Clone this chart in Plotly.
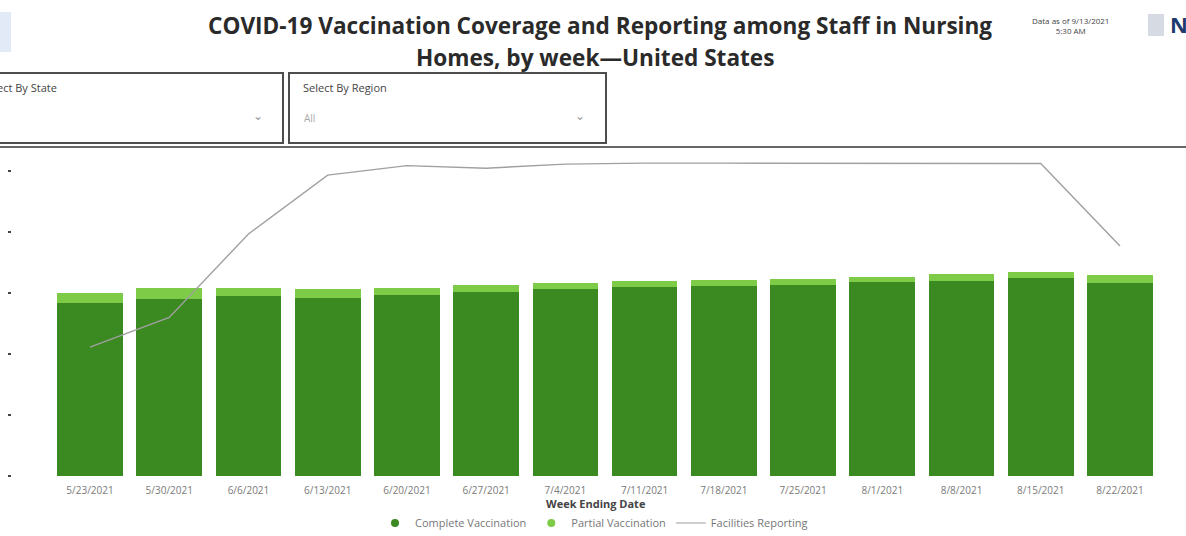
import plotly.graph_objects as go

# Week ending dates
weeks = ["5/23/2021", "5/30/2021", "6/6/2021", "6/13/2021", "6/20/2021", "6/27/2021",
         "7/4/2021", "7/11/2021", "7/18/2021", "7/25/2021", "8/1/2021", "8/8/2021",
         "8/15/2021", "8/22/2021"]

# Percent of staff vaccinated
complete_pct = [56.8, 58.2, 59.0, 58.4, 59.5, 60.2, 61.2, 61.9, 62.4, 62.6, 63.5, 64.0, 64.8, 63.4]
partial_pct = [3.1, 3.3, 2.5, 2.8, 2.2, 2.4, 2.2, 2.0, 1.9, 2.1, 1.8, 2.1, 2.2, 2.6]

# Percent of facilities reporting
reporting_pct = [41.1, 50.6, 77.2, 96.0, 99.0, 98.2, 99.5, 99.8, 99.8, 99.8, 99.8, 99.7, 99.7, 73.4]

W, H = 1186, 536
L, R, T, B = 12, 26, 150, 60
FONT = "Open Sans"

def px(x):
    return (x - L) / (W - L - R)

def py(y):
    return (H - B - y) / (H - T - B)

dark_green = "#3b8a21"
light_green = "#7dcb46"
line_grey = "#a0a0a0"

fig = go.Figure()

fig.add_trace(go.Bar(x=weeks, y=complete_pct, name="Complete Vaccination",
                     marker=dict(color=dark_green, line=dict(width=0)), showlegend=False))
fig.add_trace(go.Bar(x=weeks, y=partial_pct, name="Partial Vaccination",
                     marker=dict(color=light_green, line=dict(width=0)), showlegend=False))
fig.add_trace(go.Scatter(x=weeks, y=reporting_pct, name="Facilities Reporting", yaxis="y2",
                         mode="lines", line=dict(color=line_grey, width=1.4), showlegend=False))

# legend entries
fig.add_trace(go.Scatter(x=[None], y=[None], mode="markers", name="Complete Vaccination",
                         marker=dict(color=dark_green, size=8, symbol="circle")))
fig.add_trace(go.Scatter(x=[None], y=[None], mode="markers", name="Partial Vaccination",
                         marker=dict(color=light_green, size=8, symbol="circle")))
fig.add_trace(go.Scatter(x=[None], y=[None], mode="lines", name="Facilities Reporting",
                         line=dict(color=line_grey, width=1.2)))

x0 = (L - 90) / 79.23
x1 = (W - R - 90) / 79.23

fig.update_layout(
    width=W, height=H,
    margin=dict(l=L, r=R, t=T, b=B, autoexpand=False),
    paper_bgcolor="white", plot_bgcolor="white",
    barmode="stack", bargap=0.17,
    font=dict(family=FONT, color="#555"),
    xaxis=dict(type="category", range=[x0, x1], showgrid=False, zeroline=False,
               showline=False, ticks="", ticklabelstandoff=7,
               tickfont=dict(size=10, color="#7a7a7a", family=FONT)),
    yaxis=dict(range=[0, 106.9], dtick=20, showgrid=False, zeroline=False, showline=False,
               showticklabels=False, ticks="outside", ticklen=3, tickcolor="#444", tickwidth=1.5),
    yaxis2=dict(range=[0, 104], overlaying="y", side="right", showgrid=False,
                zeroline=False, showline=False, showticklabels=False, ticks=""),
    legend=dict(orientation="h", x=px(594), xanchor="center", y=py(523), yanchor="middle",
                traceorder="normal",
                font=dict(size=11, color="#777", family=FONT), itemwidth=30,
                bgcolor="rgba(0,0,0,0)", tracegroupgap=0),
)

shapes = [
    # header separator
    dict(type="line", xref="paper", yref="paper", x0=px(0), x1=px(W), y0=py(147), y1=py(147),
         line=dict(color="#666", width=2)),
    # filter boxes
    dict(type="rect", xref="paper", yref="paper", x0=px(-6), x1=px(283), y0=py(143), y1=py(73),
         line=dict(color="#4d4d4d", width=2)),
    dict(type="rect", xref="paper", yref="paper", x0=px(289), x1=px(606), y0=py(143), y1=py(73),
         line=dict(color="#4d4d4d", width=2)),
    # left logo edge
    dict(type="rect", xref="paper", yref="paper", x0=px(0), x1=px(11), y0=py(52), y1=py(12),
         line=dict(width=0), fillcolor="#e3eaf7"),
    # right logo icon
    dict(type="rect", xref="paper", yref="paper", x0=px(1148), x1=px(1164), y0=py(36), y1=py(14),
         line=dict(width=0), fillcolor="#d6dbe3"),
]

annotations = [
    dict(text="<b>COVID-19 Vaccination Coverage and Reporting among Staff in Nursing</b>",
         x=px(600), y=py(26), font=dict(size=22.6, color="#2a2a2a", family=FONT)),
    dict(text="<b>Homes, by week\u2014United States</b>",
         x=px(595), y=py(57), font=dict(size=22.6, color="#2a2a2a", family=FONT)),
    dict(text="Data as of 9/13/2021<br>5:30 AM", x=px(1070), y=py(26),
         font=dict(size=8, color="#444", family=FONT)),
    dict(text="<b>N</b>", x=px(1168), y=py(24), xanchor="left",
         font=dict(size=22, color="#1f3a6e", family=FONT)),
    dict(text="Select By State", x=px(-20), y=py(87), xanchor="left",
         font=dict(size=11, color="#444", family=FONT)),
    dict(text="Select By Region", x=px(301), y=py(87), xanchor="left",
         font=dict(size=11, color="#444", family=FONT)),
    dict(text="All", x=px(302), y=py(118), xanchor="left",
         font=dict(size=10, color="#aaa", family=FONT)),
    dict(text="\u2304", x=px(258), y=py(116), font=dict(size=12, color="#999", family=FONT)),
    dict(text="\u2304", x=px(580), y=py(116), font=dict(size=12, color="#999", family=FONT)),
    dict(text="<b>Week Ending Date</b>", x=px(596), y=py(503),
         font=dict(size=11, color="#444", family=FONT)),
]
for a in annotations:
    a.update(xref="paper", yref="paper", showarrow=False, xanchor=a.get("xanchor", "center"),
             yanchor="middle")

fig.update_layout(shapes=shapes, annotations=annotations)

fig.write_html("out.html")
